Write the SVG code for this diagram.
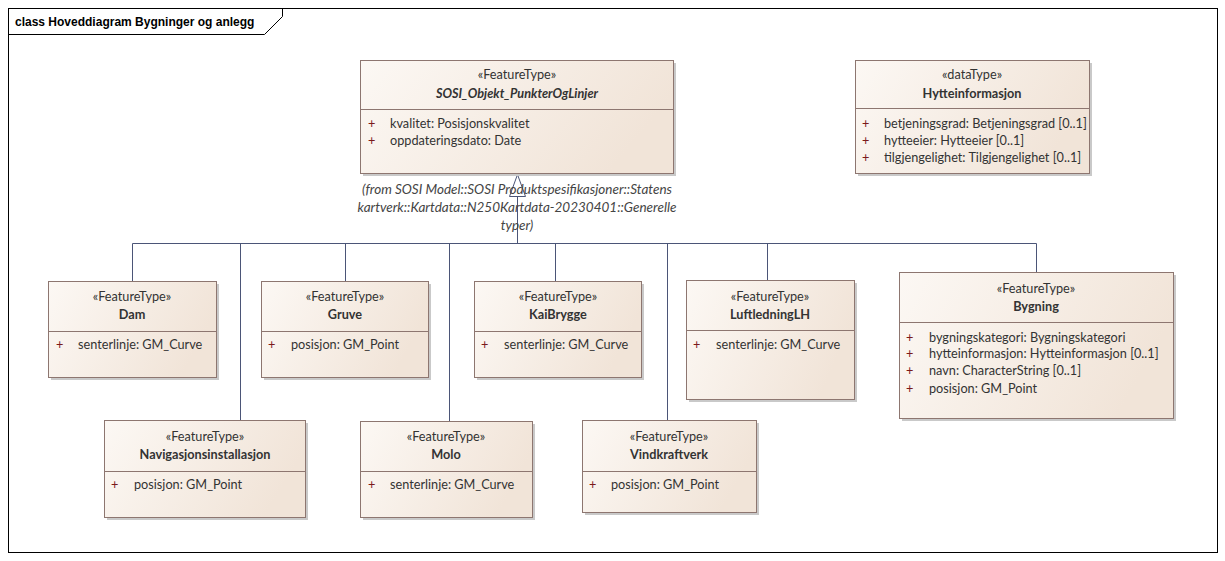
<svg xmlns="http://www.w3.org/2000/svg" width="1225" height="561" viewBox="0 0 1225 561">
<defs>
<linearGradient id="nodeFill" x1="0" y1="0" x2="1" y2="0.3">
<stop offset="0" stop-color="#fcf8f4"/>
<stop offset="1" stop-color="#f1e4d8"/>
</linearGradient>
</defs>
<style>
.frame{fill:#fff;stroke:#000;stroke-width:1}
.title{font-family:"Liberation Sans",Arial,sans-serif;font-size:12px;font-weight:bold;fill:#000}
.shadow{fill:#c9c9c9}
.box{fill:url(#nodeFill);stroke:#8d7670;stroke-width:1}
.div{stroke:#8d7670;stroke-width:1}
.st{font-family:Lato,"Liberation Sans",sans-serif;font-size:12.7px;fill:#333;text-anchor:middle}
.nm{font-family:Lato,"Liberation Sans",sans-serif;font-size:12.7px;font-weight:bold;fill:#333;text-anchor:middle}
.nmi{font-style:italic}
.pl{font-family:Lato,"Liberation Sans",sans-serif;font-size:12.7px;fill:#7a1a1a}
.at{font-family:Lato,"Liberation Sans",sans-serif;font-size:12.7px;fill:#333}
.note{font-family:Lato,"Liberation Sans",sans-serif;font-size:13.5px;font-style:italic;fill:#444;text-anchor:middle}
.ln{fill:none;stroke:#4b5577;stroke-width:1}
.head{fill:#fff;stroke:#4b5577;stroke-width:1}
</style>
<rect x="0" y="0" width="1225" height="561" fill="#fff"/>
<g id="frame">
<rect class="frame" x="8.5" y="8.5" width="1209" height="544"/>
<path d="M8.5,34.5 H264.5 L282.5,16.5 V8.5" fill="none" stroke="#000"/>
<text class="title" x="15" y="26">class Hoveddiagram Bygninger og anlegg</text>
</g>
<g id="connectors">
<path class="ln" d="M517.5,196 V243.5 M132.5,243.5 H1036.5 M132.5,243.5 V281 M240.5,243.5 V420 M345.5,243.5 V281 M449.5,243.5 V421 M555.5,243.5 V281 M667.5,243.5 V420 M767.5,243.5 V281 M1036.5,243.5 V272"/>
<path class="head" d="M517.5,174.5 L509.5,196.5 L525.5,196.5 Z"/>
</g>
<g id="note">
<text class="note" x="517" y="194">(from SOSI Model::SOSI Produktspesifikasjoner::Statens</text>
<text class="note" x="517" y="212">kartverk::Kartdata::N250Kartdata-20230401::Generelle</text>
<text class="note" x="517" y="230">typer)</text>
</g>
<g id="SOSI_Objekt_PunkterOgLinjer">
<rect class="shadow" x="363" y="63" width="313" height="113"/>
<rect class="box" x="360.5" y="60.5" width="313" height="113"/>
<line class="div" x1="360.5" y1="109.5" x2="673.5" y2="109.5"/>
<text class="st" x="517" y="79">«FeatureType»</text>
<text class="nm nmi" x="517" y="98">SOSI_Objekt_PunkterOgLinjer</text>
<text class="pl" x="368" y="128">+</text><text class="at" x="390" y="128">kvalitet: Posisjonskvalitet</text>
<text class="pl" x="368" y="145">+</text><text class="at" x="390" y="145">oppdateringsdato: Date</text>
</g>
<g id="Hytteinformasjon">
<rect class="shadow" x="858" y="63" width="234" height="113"/>
<rect class="box" x="855.5" y="60.5" width="234" height="113"/>
<line class="div" x1="855.5" y1="108.5" x2="1089.5" y2="108.5"/>
<text class="st" x="972" y="79">«dataType»</text>
<text class="nm" x="972" y="98">Hytteinformasjon</text>
<text class="pl" x="862" y="128">+</text><text class="at" x="884" y="128">betjeningsgrad: Betjeningsgrad [0..1]</text>
<text class="pl" x="862" y="145">+</text><text class="at" x="884" y="145">hytteeier: Hytteeier [0..1]</text>
<text class="pl" x="862" y="162">+</text><text class="at" x="884" y="162">tilgjengelighet: Tilgjengelighet [0..1]</text>
</g>
<g id="Dam">
<rect class="shadow" x="51" y="284" width="168" height="96"/>
<rect class="box" x="48.5" y="281.5" width="168" height="96"/>
<line class="div" x1="48.5" y1="331.5" x2="216.5" y2="331.5"/>
<text class="st" x="132" y="301">«FeatureType»</text>
<text class="nm" x="132" y="319">Dam</text>
<text class="pl" x="56" y="349">+</text><text class="at" x="78" y="349">senterlinje: GM_Curve</text>
</g>
<g id="Gruve">
<rect class="shadow" x="264" y="284" width="167" height="96"/>
<rect class="box" x="261.5" y="281.5" width="167" height="96"/>
<line class="div" x1="261.5" y1="331.5" x2="428.5" y2="331.5"/>
<text class="st" x="345" y="301">«FeatureType»</text>
<text class="nm" x="345" y="319">Gruve</text>
<text class="pl" x="268" y="349">+</text><text class="at" x="291" y="349">posisjon: GM_Point</text>
</g>
<g id="KaiBrygge">
<rect class="shadow" x="477" y="284" width="167" height="96"/>
<rect class="box" x="474.5" y="281.5" width="167" height="96"/>
<line class="div" x1="474.5" y1="331.5" x2="641.5" y2="331.5"/>
<text class="st" x="558" y="301">«FeatureType»</text>
<text class="nm" x="558" y="319">KaiBrygge</text>
<text class="pl" x="481" y="349">+</text><text class="at" x="504" y="349">senterlinje: GM_Curve</text>
</g>
<g id="LuftledningLH">
<rect class="shadow" x="689" y="283" width="168" height="119"/>
<rect class="box" x="686.5" y="280.5" width="168" height="119"/>
<line class="div" x1="686.5" y1="330.5" x2="854.5" y2="330.5"/>
<text class="st" x="770" y="301">«FeatureType»</text>
<text class="nm" x="770" y="319">LuftledningLH</text>
<text class="pl" x="693" y="349">+</text><text class="at" x="716" y="349">senterlinje: GM_Curve</text>
</g>
<g id="Bygning">
<rect class="shadow" x="902" y="275" width="274" height="146"/>
<rect class="box" x="899.5" y="272.5" width="274" height="146"/>
<line class="div" x1="899.5" y1="322.5" x2="1173.5" y2="322.5"/>
<text class="st" x="1036" y="293">«FeatureType»</text>
<text class="nm" x="1036" y="311">Bygning</text>
<text class="pl" x="906" y="342">+</text><text class="at" x="929" y="342">bygningskategori: Bygningskategori</text>
<text class="pl" x="906" y="358">+</text><text class="at" x="929" y="358">hytteinformasjon: Hytteinformasjon [0..1]</text>
<text class="pl" x="906" y="375">+</text><text class="at" x="929" y="375">navn: CharacterString [0..1]</text>
<text class="pl" x="906" y="393">+</text><text class="at" x="929" y="393">posisjon: GM_Point</text>
</g>
<g id="Navigasjonsinstallasjon">
<rect class="shadow" x="107" y="423" width="201" height="97"/>
<rect class="box" x="104.5" y="420.5" width="201" height="97"/>
<line class="div" x1="104.5" y1="471.5" x2="305.5" y2="471.5"/>
<text class="st" x="205" y="441">«FeatureType»</text>
<text class="nm" x="205" y="459">Navigasjonsinstallasjon</text>
<text class="pl" x="111" y="489">+</text><text class="at" x="134" y="489">posisjon: GM_Point</text>
</g>
<g id="Molo">
<rect class="shadow" x="363" y="424" width="172" height="96"/>
<rect class="box" x="360.5" y="421.5" width="172" height="96"/>
<line class="div" x1="360.5" y1="471.5" x2="532.5" y2="471.5"/>
<text class="st" x="446" y="441">«FeatureType»</text>
<text class="nm" x="446" y="459">Molo</text>
<text class="pl" x="368" y="489">+</text><text class="at" x="390" y="489">senterlinje: GM_Curve</text>
</g>
<g id="Vindkraftverk">
<rect class="shadow" x="585" y="423" width="174" height="92"/>
<rect class="box" x="582.5" y="420.5" width="174" height="92"/>
<line class="div" x1="582.5" y1="471.5" x2="756.5" y2="471.5"/>
<text class="st" x="669" y="441">«FeatureType»</text>
<text class="nm" x="669" y="459">Vindkraftverk</text>
<text class="pl" x="589" y="489">+</text><text class="at" x="611" y="489">posisjon: GM_Point</text>
</g>
</svg>
